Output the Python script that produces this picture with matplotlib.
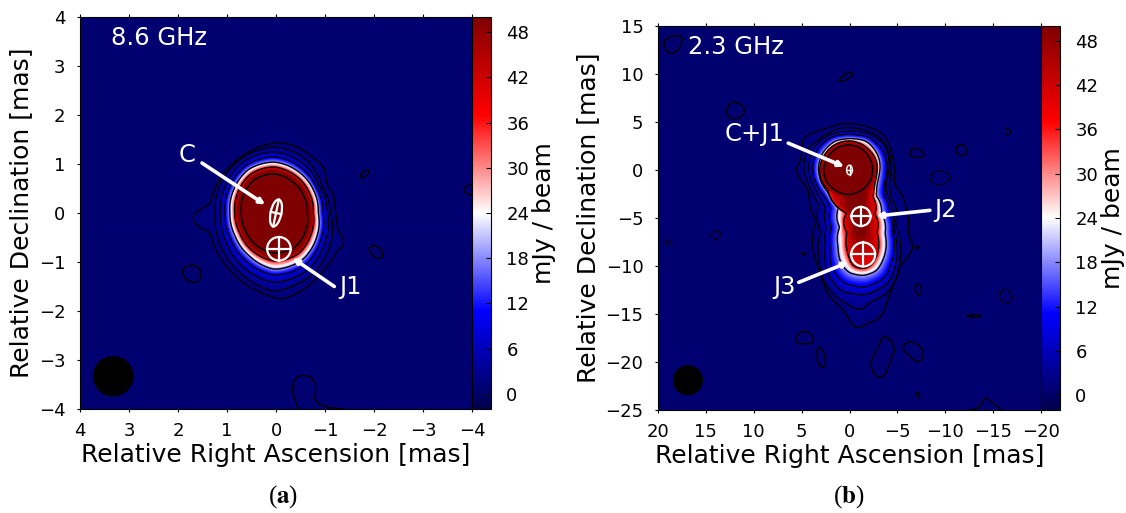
import numpy as np
import matplotlib
matplotlib.use("Agg")
import matplotlib.pyplot as plt
from matplotlib.patches import Ellipse, Circle

# contour levels, mJy / beam (outermost first)
levels_a = [1.2, 2.4, 4.8, 9.6, 19.2, 38.4, 76.8]
levels_b = [1.2, 2.4, 4.8, 9.6, 19.2, 38.4]
core_level = 76.8
cbar_ticks = list(range(0, 49, 6))

# ---- 8.6 GHz map ----
a_bg = [[0.6, 0.8, 0.8, 0.6, 0.6, 0.8],
        [0.6, 0.8, 0.9, 0.8, 0.6, 0.6],
        [0.8, 0.8, 0.8, 0.6, 0.5, 0.6],
        [0.6, 0.6, 0.6, 0.6, 0.6, 0.8],
        [0.6, 0.5, 0.8, 0.8, 0.8, 0.6],
        [0.5, 0.5, 0.6, 0.8, 0.8, 0.8]]
# outermost contour, x and y in mas
a_outer_x = [-.12, -.42, -.76, -.97, -1.03, -1.17, -1.2, -1.24, -1.42, -1.24, -.97, -.76, -.42, -.12,
             .26, .6, .94, 1.28, 1.35, 1.62, 1.72, 1.62, 1.35, 1.28, 1.07, .87, .6, .19]
a_outer_y = [1.44, 1.35, 1.12, .95, .57, .40, .06, -.35, -.59, -.79, -1.16, -1.4, -1.64, -1.76,
             -1.64, -1.47, -1.16, -.62, -.35, -.28, -.11, .06, .14, .4, .81, 1.01, 1.22, 1.39]
# the other contours as radius every 30 deg, counter-clockwise from image right
a_r_2 = [1.15, 1.12, 1.28, 1.35, 1.30, 1.25, 1.20, 1.27, 1.40, 1.60, 1.48, 1.32]
a_r_5 = [1.09, 1.07, 1.17, 1.25, 1.22, 1.14, 1.09, 1.14, 1.27, 1.42, 1.35, 1.20]
a_r_10 = [1.00, 1.01, 1.08, 1.15, 1.13, 1.05, 1.00, 1.03, 1.14, 1.27, 1.24, 1.10]
a_r_19 = [.90, .93, .98, 1.04, 1.03, .95, .90, .92, 1.01, 1.15, 1.12, 1.00]
a_r_38 = [.80, .83, .88, .94, .93, .85, .80, .81, .89, .98, .97, .87]
a_r_77 = [.68, .70, .74, .80, .79, .72, .67, .68, .75, .82, .82, .74]
a_islands = [
    ([-1.7, -1.78, -1.9, -1.88, -1.78], [.72, .85, .89, .78, .72], '-'),
    ([-1.87, -2.05, -2.2, -2.15, -1.97], [-.7, -.65, -.8, -.95, -.88], '-'),
    ([1.95, 1.8, 1.6, 1.51, 1.6, 1.8], [-1.2, -1.06, -1.08, -1.25, -1.43, -1.4], '-'),
]
a_open = [
    ([-.46, -.31, -.39, -.61, -.79, -.82, -.77, -1.0, -1.37], [-4, -3.62, -3.35, -3.3, -3.41, -3.62, -3.82, -3.96, -4], '-'),
    ([-4, -3.83, -3.83, -4], [.58, .53, .43, .36], '-'),
]

# ---- 2.3 GHz map ----
b_bg = [[0.6, 0.8, 0.6, 0.8, 0.6, 0.6],
        [0.8, 0.9, 0.8, 0.6, 0.6, 0.8],
        [0.6, 0.8, 0.9, 0.8, 0.5, 0.6],
        [0.8, 0.6, 0.9, 0.9, 0.6, 0.8],
        [0.6, 0.6, 0.8, 0.8, 0.8, 0.6],
        [0.6, 0.8, 0.6, 0.9, 0.6, 0.6]]
b_c_1 = [(0.8, 4.85), (-2.2, 4.4), (-3.7, 3.6), (-4.5, 1.3), (-4.6, -1.4), (-5.96, -4.2), (-6.1, -6.65), (-6.65, -8.15),
         (-4.9, -10.3), (-3.9, -13.4), (-3.4, -15.4), (-1.8, -15.9), (-0.6, -16.8), (0, -16), (0.2, -14.8), (2.3, -12.9),
         (2.9, -11), (3.5, -9.4), (3.4, -5.3), (4.2, -2), (5.7, -0.2), (4.9, 1.3), (4.9, 3.4), (2.7, 4.2)]
b_c_2 = [(0.8, 4.43), (-2.2, 3.95), (-3.6, 3.0), (-4.3, 1.0), (-4.1, -1.5), (-4.3, -2.8), (-4.9, -6), (-5.3, -8.5),
         (-4.9, -11.2), (-3.87, -12.9), (-1.95, -13.8), (-1.1, -14.8), (-0.04, -14.1), (1.35, -13.3), (2.74, -11.5),
         (3.2, -9), (3.0, -6.5), (3.2, -3.5), (4.0, -2), (4.8, 0.2), (4.4, 2.2), (2.4, 3.7)]
b_c_5 = [(0, 4.04), (-2.1, 3.75), (-3.7, 2.6), (-4.2, 0.5), (-3.7, -1.5), (-3.9, -2.6), (-4.5, -4.5), (-4.7, -6.6), (-4.95, -8.8),
         (-4.0, -11.8), (-1.7, -13.0), (0.9, -12.6), (2.4, -10.5), (2.5, -8), (2.4, -6), (2.5, -3.9), (3.0, -2.9),
         (3.7, -1.7), (4.3, 0.2), (3.7, 2.4), (2.05, 3.7)]
b_c_10 = [(0, 3.73), (-2.0, 3.45), (-3.4, 2.25), (-4.0, 0.4), (-3.6, -1.5), (-3.55, -2.6), (-4.2, -4.5), (-4.5, -6.6), (-4.6, -8.8),
          (-3.6, -11.3), (-1.6, -12.2), (0.6, -11.8), (1.9, -10.1), (2.0, -8), (1.9, -6), (2.0, -3.9), (2.4, -3.0),
          (3.4, -1.7), (3.9, 0.2), (3.35, 2.2), (1.85, 3.5)]
b_c_19 = [(-0.03, 3.28), (-1.78, 3.03), (-2.82, 1.88), (-3.28, 0.31), (-2.82, -1.43), (-2.75, -2.65), (-3.34, -4.56), (-3.69, -6.66),
          (-3.69, -8.75), (-2.82, -10.5), (-1.43, -11.0), (0.14, -10.66), (1.01, -9.44), (1.18, -8.05), (1.01, -5.96),
          (1.11, -3.87), (1.53, -3.0), (2.75, -1.78), (3.28, 0.14), (2.75, 1.88), (1.53, 3.03)]
b_c_38 = [(0, 2.95), (-1.6, 2.5), (-2.6, 1.5), (-3.0, 0.3), (-2.55, -1.6), (-2.45, -2.8), (-2.65, -4.6), (-2.85, -6.5), (-2.9, -8.8),
          (-2.2, -10.0), (-1.4, -10.3), (-0.3, -10.0), (0.15, -8.8), (0.25, -6.5), (0.25, -4.5), (0.45, -3.2), (1.2, -2.6),
          (2.4, -1.6), (2.95, 0.1), (2.4, 1.6), (1.3, 2.6)]
b_core_r = [2.55, 2.55, 2.6, 2.6, 2.55, 2.5, 2.55, 2.55, 2.5, 2.55, 2.5, 2.55]
b_islands = [
    ([19.5, 18.95, 17.46, 17.46, 18.2, 18.95], [13.2, 13.9, 14.06, 13.2, 12.15, 12.15], '-'),
    ([1.2, .6, -.2, -.4, .2, .9], [9.3, 9.9, 10.3, 9.9, 9.4, 9.2], '-'),
    ([12.9, 12.5, 11.8, 11.0, 11.0, 11.7, 12.6], [6.2, 7.0, 7.1, 6.6, 5.8, 5.3, 5.4], '-'),
    ([-6.2, -6.6, -7.3, -7.9, -7.4, -6.5], [1.8, 2.3, 2.2, 1.6, 1.3, 1.3], '-'),
    ([-11.0, -11.5, -12.1, -12.4, -11.9, -11.3], [2.2, 2.7, 2.5, 1.8, 1.5, 1.6], '-'),
    ([-8.2, -9, -10, -10.7, -10, -9], [-.8, -.1, -.1, -.7, -1.5, -1.6], '--'),
    ([-16.4, -16.9, -16.6, -16.2], [4.5, 4.0, 3.5, 3.9], '--'),
    ([-15.6, -16.0, -16.7, -17.1, -16.7, -16.0], [-13.0, -12.4, -12.5, -13.2, -13.9, -13.8], '--'),
    ([13.4, 13.9, 14.5, 14.4, 13.8], [-6.6, -6.3, -6.6, -7.1, -7.3], '--'),
    ([18.9, 19.2, 18.8, 18.7], [-7.2, -7.6, -7.9, -7.5], '--'),
    ([4.6, 5.0, 4.8, 4.6], [-8.6, -8.6, -8.9, -8.8], '-'),
    ([-6.8, -7.0, -7.4, -7.6, -7.3, -7.0], [-12.3, -11.9, -11.9, -12.6, -13.1, -12.9], '-'),
    ([-6.8, -7.1, -7.3, -7.0], [-8.0, -7.9, -8.1, -8.2], '-'),
    ([-11.9, -13.6, -13.7, -12.9], [-15.2, -15.0, -15.4, -15.3], '-'),
    ([3.6, 5.7, 5.5, 4.8, 4.0], [-18.1, -18.1, -17.2, -16.7, -17.0], '-'),
    ([3.4, 2.6, 2.5, 2.9, 3.4], [-18.2, -19, -20.5, -20.6, -20.0], '-'),
    ([-3.6, -4.9, -4.2, -3.6, -2.7, -2.05, -2.9], [-17, -18.4, -20.1, -21.7, -21.5, -20.1, -18.7], '-'),
    ([-5.4, -6.4, -7.7, -7.7, -7.2, -6.2], [-18.4, -17.7, -18.6, -19.6, -20.1, -19.4], '-'),
    ([-6.9, -7.1, -7.4, -7.2], [-23.4, -23.1, -23.4, -23.8], '-'),
]
b_open = [
    ([-12.6, -13.7, -14.1, -14.8, -15.9], [-25, -24.7, -23.6, -24.1, -25], '-'),
]


def polar_to_xy(radii, x0=0.0):
    ang = np.deg2rad(np.arange(len(radii)) * 360 / len(radii))
    return list(zip(x0 - np.array(radii) * np.cos(ang), np.array(radii) * np.sin(ang)))


def radius_table(points, x0, y0, n=1440, smooth=7):
    """ Radius of a closed contour against angle, as seen from (x0, y0) """
    pts = np.array(points, dtype=float)
    ang = np.arctan2(pts[:, 1] - y0, -(pts[:, 0] - x0)) % (2 * np.pi)
    rad = np.hypot(pts[:, 0] - x0, pts[:, 1] - y0)
    order = np.argsort(ang)
    grid = np.arange(n) * 2 * np.pi / n
    r = np.interp(grid, ang[order], rad[order], period=2 * np.pi)
    # round off the corners of the hand read outline
    kernel = np.hanning(2 * smooth * n // 360 + 1)
    kernel /= kernel.sum()
    return np.fft.ifft(np.fft.fft(r) * np.fft.fft(kernel, n)).real.take(
        np.arange(n) + len(kernel) // 2, mode='wrap')


def build_field(x, y, bg, outlines, lev, x0, y0, margin, peak):
    """ Interpolate the map between the contour outlines, on log flux """
    xx, yy = np.meshgrid(x, y)
    n = 1440
    theta = np.arctan2(yy - y0, -(xx - x0)) % (2 * np.pi)
    idx = (theta / (2 * np.pi) * n).astype(int) % n
    r = np.hypot(xx - x0, yy - y0)

    # background from the coarse table
    bg = np.array(bg)
    gy = np.linspace(y[0], y[-1], bg.shape[0])
    gx = np.linspace(x[0], x[-1], bg.shape[1])
    rows = np.array([np.interp(x, gx, row) for row in bg])
    back = np.array([np.interp(y, gy, col) for col in rows.T]).T

    tables = [radius_table(p, x0, y0)[idx] for p in outlines]
    field = back.copy()
    k = len(tables)
    # outside the lowest contour
    mask = (r >= tables[0]) & (r < tables[0] + margin)
    t = (r - tables[0]) / margin
    field[mask] = (lev[0] * (back / lev[0]) ** t)[mask]
    for i in range(k - 1):
        mask = (r >= tables[i + 1]) & (r < tables[i])
        t = (tables[i] - r) / (tables[i] - tables[i + 1])
        field[mask] = (lev[i] * (lev[i + 1] / lev[i]) ** t)[mask]
    mask = r < tables[-1]
    t = 1 - r / tables[-1]
    field[mask] = (lev[k - 1] * (peak / lev[k - 1]) ** t)[mask]
    return field


def blurred(field, sigma_cells):
    """ Soft display copy of the map, the source picture is a bit soft too """
    data = np.clip(field, -2, 50)
    fy = np.fft.fftfreq(data.shape[0])[:, None]
    fx = np.fft.rfftfreq(data.shape[1])[None, :]
    gain = np.exp(-2 * (np.pi * sigma_cells) ** 2 * (fx ** 2 + fy ** 2))
    return np.fft.irfft2(np.fft.rfft2(data) * gain, s=data.shape)


def rounded(px, py, closed=True, passes=3):
    """ Corner cutting, so the hand read islands do not look polygonal """
    pts = np.column_stack([px, py]).astype(float)
    for _ in range(passes):
        nxt = np.roll(pts, -1, axis=0) if closed else pts[1:]
        cur = pts if closed else pts[:-1]
        q = 0.75 * cur + 0.25 * nxt
        s = 0.25 * cur + 0.75 * nxt
        new = np.empty((2 * len(cur), 2))
        new[0::2], new[1::2] = q, s
        pts = np.vstack([pts[:1], new, pts[-1:]]) if not closed else new
    if closed:
        pts = np.vstack([pts, pts[:1]])
    return pts[:, 0], pts[:, 1]


def px_axes(fig, left, top, right, bottom):
    w, h = fig.get_size_inches() * fig.dpi
    return fig.add_axes([left / w, 1 - bottom / h, (right - left) / w, (bottom - top) / h])


def add_component(ax, x, y, w, h, tilt=0, lw=1.6):
    ax.add_patch(Ellipse((x, y), w, h, angle=tilt, fill=False, ec='white', lw=lw, zorder=5))
    t = np.deg2rad(tilt)
    ax.plot([x + h / 2 * np.sin(t), x - h / 2 * np.sin(t)], [y - h / 2 * np.cos(t), y + h / 2 * np.cos(t)],
            color='white', lw=lw, zorder=5)
    ax.plot([x - w / 2 * np.cos(t), x + w / 2 * np.cos(t)], [y - w / 2 * np.sin(t), y + w / 2 * np.sin(t)],
            color='white', lw=lw, zorder=5)


def label_arrow(ax, text, xy_text, xy_from, xy_to):
    ax.text(*xy_text, text, color='white', fontsize=17.5, ha='center', va='center', zorder=6)
    ax.annotate('', xy=xy_to, xytext=xy_from, zorder=6,
                arrowprops=dict(arrowstyle='-|>,head_length=0.3,head_width=0.15', color='white', lw=2.6,
                                shrinkA=0, shrinkB=0))


def style_axes(ax, xticks, yticks):
    ax.set_xticks(xticks)
    ax.set_yticks(yticks)
    ax.tick_params(direction='out', top=True, labelsize=13, length=2.5, width=0.8)
    ax.tick_params(axis='x', pad=7)
    ax.tick_params(axis='y', pad=8)
    ax.set_xlabel('Relative Right Ascension [mas]', fontsize=18, labelpad=2)
    ax.set_ylabel('Relative Declination [mas]', fontsize=18, labelpad=4)


def draw_panel(fig, box, cbox, extent, field, soft, x, y, lev, islands, opened, xticks, yticks):
    ax = px_axes(fig, *box)
    im = ax.imshow(soft, extent=extent, origin='lower', aspect='auto', cmap='seismic',
                   vmin=-2, vmax=50, interpolation='bilinear')
    ax.contour(x, y, field, levels=lev, colors='k', linewidths=1.0, linestyles='-')
    for ix, iy, ls in islands:
        ax.plot(*rounded(ix, iy), color='k', lw=1.0, ls=ls)
    for ix, iy, ls in opened:
        ax.plot(*rounded(ix, iy, closed=False), color='k', lw=1.0, ls=ls)
    ax.set_xlim(extent[0], extent[1])
    ax.set_ylim(extent[2], extent[3])
    style_axes(ax, xticks, yticks)

    cax = px_axes(fig, *cbox)
    cb = fig.colorbar(im, cax=cax, ticks=cbar_ticks)
    cb.ax.tick_params(direction='in', labelsize=13, length=3.5, width=0.8, pad=11)
    cb.set_label('mJy / beam', fontsize=18, labelpad=2)
    return ax


plt.rcParams['mathtext.fontset'] = 'stix'
fig = plt.figure(figsize=(11.26, 5.13), dpi=100)

# Panel (a)
x_a = np.linspace(4, -4, 801)
y_a = np.linspace(-4, 4, 801)
a_outlines = [list(zip(a_outer_x, a_outer_y))] + [polar_to_xy(r, 0.04) for r in
                                                  (a_r_2, a_r_5, a_r_10, a_r_19, a_r_38, a_r_77)]
field_a = build_field(x_a, y_a, a_bg, a_outlines, levels_a, 0, 0, 0.3, 300)
ax_a = draw_panel(fig, (80, 17, 472, 409), (472, 17, 491, 409), [4, -4, -4, 4], field_a, blurred(field_a, 3.0),
                  x_a, y_a, levels_a, a_islands, a_open, list(range(4, -5, -1)), list(range(-4, 5)))
add_component(ax_a, 0, 0, 0.22, 0.56, tilt=12)
add_component(ax_a, -0.06, -0.73, 0.48, 0.48)
ax_a.add_patch(Circle((3.32, -3.33), 0.4, color='k', zorder=4))
ax_a.text(2.39, 3.58, '8.6 GHz', color='white', fontsize=17.5, ha='center', va='center')
label_arrow(ax_a, 'C', (1.82, 1.18), (1.51, 1.02), (0.22, 0.17))
label_arrow(ax_a, 'J1', (-1.52, -1.51), (-1.19, -1.5), (-0.34, -0.92))

# Panel (b)
x_b = np.linspace(20, -20, 1001)
y_b = np.linspace(-25, 15, 1001)
b_outlines = [b_c_1, b_c_2, b_c_5, b_c_10, b_c_19, b_c_38]
field_b = build_field(x_b, y_b, b_bg, b_outlines, levels_b, -0.9, -4.7, 1.5, 58)
# the core peak rises above the jet, it has its own top contour
xx_b, yy_b = np.meshgrid(x_b, y_b)
core_tab = radius_table(polar_to_xy(b_core_r), 0, 0)
core_idx = (np.arctan2(yy_b, -(xx_b - 0.14)) % (2 * np.pi) / (2 * np.pi) * 1440).astype(int) % 1440
core_r = np.hypot(xx_b - 0.14, yy_b) / core_tab[core_idx]
core_field = core_level * (38.4 / core_level) ** ((core_r - 1) / 0.17)
field_b = np.where(core_r < 1.17, np.maximum(field_b, core_field), field_b)
ax_b = draw_panel(fig, (658, 26, 1041, 410), (1041, 26, 1060, 410), [20, -20, -25, 15], field_b,
                  blurred(field_b, 3.5), x_b, y_b, levels_b + [core_level], b_islands, b_open,
                  list(range(20, -21, -5)), list(range(-25, 16, 5)))
add_component(ax_b, 0, 0, 0.6, 1.0, lw=1.0)
add_component(ax_b, -1.2, -4.84, 2.0, 2.0)
add_component(ax_b, -1.43, -8.8, 2.5, 2.5)
ax_b.add_patch(Circle((16.87, -21.9), 1.5, color='k', zorder=4))
ax_b.text(11.9, 12.85, '2.3 GHz', color='white', fontsize=17.5, ha='center', va='center')
label_arrow(ax_b, 'C+J1', (9.9, 3.8), (6.4, 2.8), (0.55, 0.35))
label_arrow(ax_b, 'J2', (-10, -4.2), (-8.4, -4.2), (-2.8, -4.8))
label_arrow(ax_b, 'J3', (6.8, -12.2), (5.3, -11.7), (0.1, -9.6))

fig.text(283 / 1126, 1 - 497 / 513, r'($\mathbf{a}$)', fontsize=18, ha='center', va='center', family='Liberation Serif')
fig.text(849 / 1126, 1 - 497 / 513, r'($\mathbf{b}$)', fontsize=18, ha='center', va='center', family='Liberation Serif')

fig.savefig('out.png', dpi=100)
